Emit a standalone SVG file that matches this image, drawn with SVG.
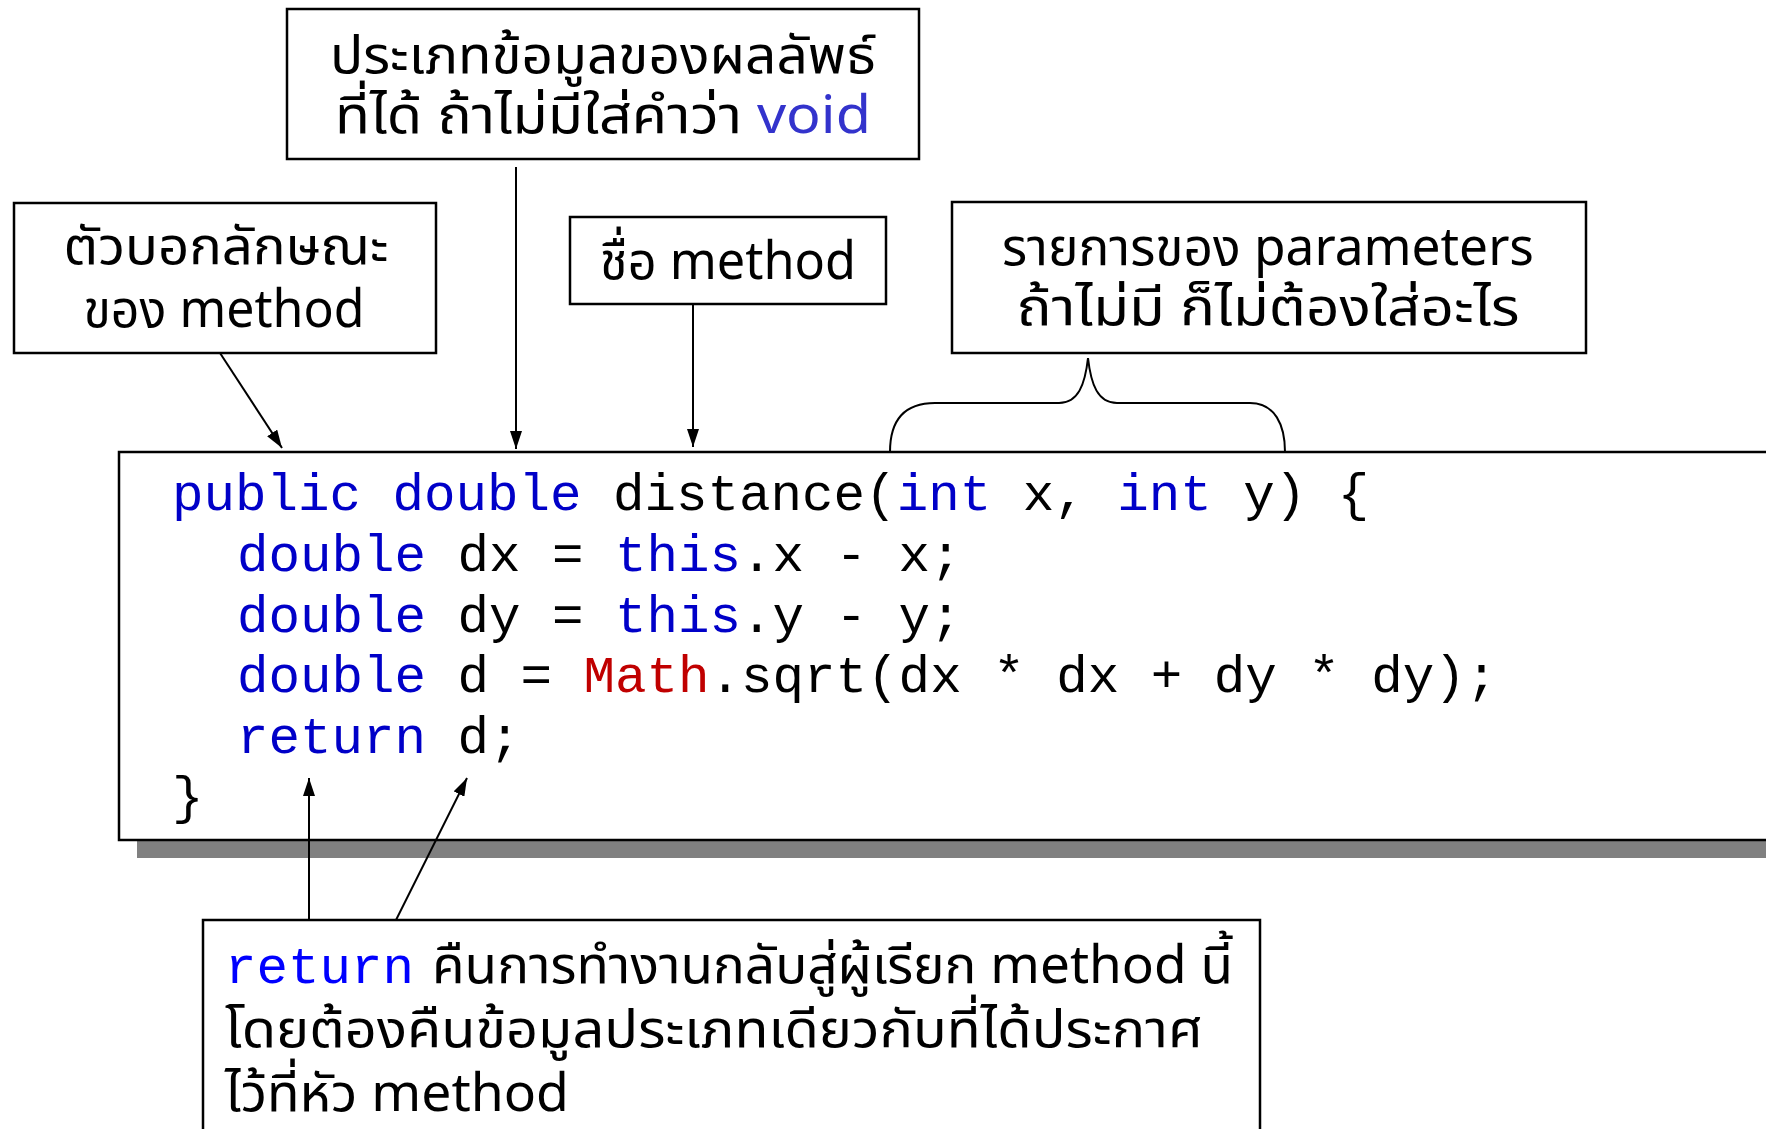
<svg xmlns="http://www.w3.org/2000/svg" width="1766" height="1129" viewBox="0 0 1766 1129">
<defs>
<marker id="ah" markerWidth="18" markerHeight="12" refX="18" refY="6" orient="auto" markerUnits="userSpaceOnUse">
<path d="M0,0 L18,6 L0,12 z" fill="#000"/>
</marker>
<style>
.box{fill:#fff;stroke:#000;stroke-width:2.5}
.th{font-family:"Tahoma","Noto Sans Thai","Noto Sans","DejaVu Sans",sans-serif;font-size:52px;fill:#000}
.code{font-family:"Liberation Mono","Courier New",monospace;font-size:52.5px;fill:#000}
.kw{fill:#0000C8}
.kw2{fill:#0000FF}
.red{fill:#C00000}
.void{fill:#3333CC}
.line{stroke:#000;stroke-width:2;fill:none}
</style>
</defs>
<rect width="1766" height="1129" fill="#fff"/>
<g id="code-box">
<rect x="137" y="470" width="1660" height="388" fill="#808080"/>
<rect class="box" x="119" y="452" width="1670" height="388"/>
<text class="code" x="172" y="510" xml:space="preserve"><tspan class="kw">public</tspan> <tspan class="kw">double</tspan> distance(<tspan class="kw">int</tspan> x, <tspan class="kw">int</tspan> y) {</text>
<text class="code" x="237" y="571" xml:space="preserve"><tspan class="kw">double</tspan> dx = <tspan class="kw">this</tspan>.x - x;</text>
<text class="code" x="237" y="632" xml:space="preserve"><tspan class="kw">double</tspan> dy = <tspan class="kw">this</tspan>.y - y;</text>
<text class="code" x="237" y="692" xml:space="preserve"><tspan class="kw">double</tspan> d = <tspan class="red">Math</tspan>.sqrt(dx * dx + dy * dy);</text>
<text class="code" x="237" y="753" xml:space="preserve"><tspan class="kw">return</tspan> d;</text>
<text class="code" x="172" y="813">}</text>
</g>
<g id="return-type">
<rect class="box" x="287" y="9" width="632" height="150"/>
<text class="th" x="603" y="73" text-anchor="middle" textLength="546" lengthAdjust="spacingAndGlyphs">ประเภทข้อมูลของผลลัพธ์</text>
<text class="th" x="603" y="133" text-anchor="middle" textLength="536" lengthAdjust="spacingAndGlyphs">ที่ได้ ถ้าไม่มีใส่คำว่า <tspan class="void">void</tspan></text>
</g>
<g id="modifier">
<rect class="box" x="14" y="203" width="422" height="150"/>
<text class="th" x="226" y="264" text-anchor="middle" textLength="325" lengthAdjust="spacingAndGlyphs">ตัวบอกลักษณะ</text>
<text class="th" x="224" y="327" text-anchor="middle" textLength="281" lengthAdjust="spacingAndGlyphs">ของ method</text>
</g>
<g id="method-name">
<rect class="box" x="570" y="217" width="316" height="87"/>
<text class="th" x="728" y="279" text-anchor="middle" textLength="256" lengthAdjust="spacingAndGlyphs">ชื่อ method</text>
</g>
<g id="parameters">
<rect class="box" x="952" y="202" width="634" height="151"/>
<text class="th" x="1268" y="265" text-anchor="middle" textLength="532" lengthAdjust="spacingAndGlyphs">รายการของ parameters</text>
<text class="th" x="1268" y="325" text-anchor="middle" textLength="503" lengthAdjust="spacingAndGlyphs">ถ้าไม่มี ก็ไม่ต้องใส่อะไร</text>
</g>
<g id="return-note">
<rect class="box" x="203" y="920" width="1057" height="230"/>
<text class="code" x="225" y="983"><tspan class="kw2">return</tspan></text>
<text class="th" x="432" y="983" textLength="801" lengthAdjust="spacingAndGlyphs">คืนการทำงานกลับสู่ผู้เรียก method นี้</text>
<text class="th" x="225" y="1047" textLength="978" lengthAdjust="spacingAndGlyphs">โดยต้องคืนข้อมูลประเภทเดียวกับที่ได้ประกาศ</text>
<text class="th" x="225" y="1111" textLength="344" lengthAdjust="spacingAndGlyphs">ไว้ที่หัว method</text>
</g>
<g id="connectors">
<line class="line" x1="220" y1="353" x2="282" y2="448" marker-end="url(#ah)"/>
<line class="line" x1="516" y1="167" x2="516" y2="449" marker-end="url(#ah)"/>
<line class="line" x1="693" y1="304" x2="693" y2="447" marker-end="url(#ah)"/>
<line class="line" x1="309" y1="920" x2="309" y2="778" marker-end="url(#ah)"/>
<line class="line" x1="396" y1="920" x2="467" y2="778" marker-end="url(#ah)"/>
<path class="line" d="M890,452 C890,425 900,403 935,403 L1059,403 C1078,403 1085,385 1088,358 C1091,385 1098,403 1117,403 L1250,403 C1275,403 1285,425 1285,452"/>
</g>
</svg>
